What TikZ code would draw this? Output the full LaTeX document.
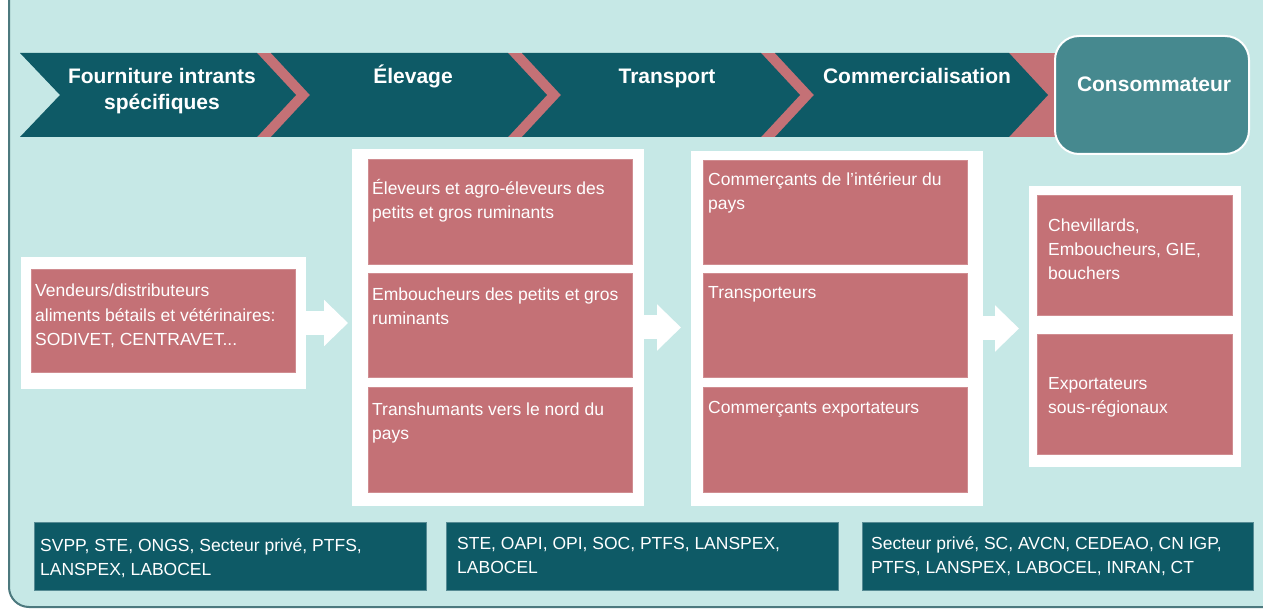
\documentclass[tikz,border=0pt]{standalone}
\usepackage{fontspec}
\setmainfont{Liberation Sans}
\usetikzlibrary{arrows.meta}
\definecolor{bgteal}{HTML}{C6E8E6}
\definecolor{darkteal}{HTML}{0E5A66}
\definecolor{rose}{HTML}{C47176}
\definecolor{consum}{HTML}{46898F}
\definecolor{frameline}{HTML}{4C797E}
\begin{document}
\begin{tikzpicture}[x=1pt,y=-1pt,
  panel/.style={fill=white, draw=none, inner sep=0pt, outer sep=0pt, anchor=north west},
  rosebox/.style={fill=rose, draw=rose!80!white, line width=0.6pt, inner sep=0pt, outer sep=0pt, anchor=north west},
  actorbox/.style={fill=darkteal, draw=darkteal!70!white, line width=0.6pt, inner sep=0pt, outer sep=0pt, anchor=north west},
  btxt/.style={font=\fontsize{17.5}{24}\selectfont, text=white, align=left, inner sep=0pt, anchor=base west},
  atxt/.style={font=\fontsize{17.5}{24}\selectfont, text=white, align=left, inner sep=0pt, anchor=base west},
  stagetxt/.style={font=\bfseries\fontsize{21}{26}\selectfont, text=white, align=center, inner sep=0pt, anchor=base},
  stageseg/.style={fill=darkteal},
  fatarrow/.style={white, line width=24pt, -{Triangle[length=24pt, width=45pt]}}
]
\useasboundingbox (0,0) rectangle (1263,609);
\fill[white] (0,0) rectangle (1263,609);
\draw[frameline, line width=2pt, fill=bgteal, rounded corners=20pt] (9,-40) rectangle (1300,607);

% stage band
\fill[rose] (250,53) rectangle (1062,137);
\fill[stageseg] (20,53) -- (257,53) -- (296,95) -- (257,137) -- (20,137) -- (60,95) -- cycle;
\fill[stageseg] (271,53) -- (508,53) -- (547,95) -- (508,137) -- (271,137) -- (310,95) -- cycle;
\fill[stageseg] (522,53) -- (761,53) -- (800,95) -- (761,137) -- (522,137) -- (561,95) -- cycle;
\fill[stageseg] (775,53) -- (1009,53) -- (1048,95) -- (1009,137) -- (775,137) -- (814,95) -- cycle;
% base anchor of a multi-line node = baseline of its last line
\node[stagetxt] (s1) at (162,110) {Fourniture intrants\\spécifiques};
\node[stagetxt] (s2) at (413,84) {Élevage};
\node[stagetxt] (s3) at (667,84) {Transport};
\node[stagetxt] (s4) at (917,84) {Commercialisation};
\node[fill=consum, draw=white, line width=2pt, rounded corners=24pt, minimum width=194pt, minimum height=118pt, inner sep=0pt] (cons) at (1152,95) {};
\node[stagetxt] (constxt) at (1154,92) {Consommateur};

% panels
\node[panel, minimum width=285pt, minimum height=132pt] (p1) at (21,257) {};
\node[panel, minimum width=292pt, minimum height=357pt] (p2) at (352,149) {};
\node[panel, minimum width=292pt, minimum height=355pt] (p3) at (691,151) {};
\node[panel, minimum width=212pt, minimum height=281pt] (p4) at (1029,186) {};

\node[rosebox, minimum width=264pt, minimum height=103pt] (a1) at (31,269) {};
\node[btxt] (a1t) at (35,345) {Vendeurs/distributeurs\\aliments bétails et vétérinaires:\\SODIVET, CENTRAVET...};

\node[rosebox, minimum width=264pt, minimum height=105pt] (b1) at (368,159) {};
\node[rosebox, minimum width=264pt, minimum height=104pt] (b2) at (368,273) {};
\node[rosebox, minimum width=264pt, minimum height=105pt] (b3) at (368,387) {};
\node[btxt] (b1t) at (372,219) {Éleveurs et agro-éleveurs des\\petits et gros ruminants};
\node[btxt] (b2t) at (372,325) {Emboucheurs des petits et gros\\ruminants};
\node[btxt] (b3t) at (372,439) {Transhumants vers le nord du\\pays};

\node[rosebox, minimum width=264pt, minimum height=104pt] (c1) at (703,160) {};
\node[rosebox, minimum width=264pt, minimum height=104pt] (c2) at (703,273) {};
\node[rosebox, minimum width=264pt, minimum height=105pt] (c3) at (703,387) {};
\node[btxt] (c1t) at (708,210) {Commerçants de l'intérieur du\\pays};
\node[btxt] (c2t) at (708,299) {Transporteurs};
\node[btxt] (c3t) at (708,413) {Commerçants exportateurs};

\node[rosebox, minimum width=195pt, minimum height=120pt] (d1) at (1037,195) {};
\node[rosebox, minimum width=195pt, minimum height=120pt] (d2) at (1037,334) {};
\node[btxt] (d1t) at (1048,280) {Chevillards,\\Emboucheurs, GIE,\\bouchers};
\node[btxt] (d2t) at (1048,413) {Exportateurs\\sous-régionaux};

% arrows between panels
\draw[fatarrow, shorten >=4pt] (p1.east) -- (p1.east -| p2.west);
\draw[fatarrow, shorten >=10pt] (p2.east) -- (p2.east -| p3.west);
\draw[fatarrow, shorten >=10pt] (p3.east) -- (p3.east -| p4.west);

% actor boxes
\node[actorbox, minimum width=392pt, minimum height=68pt] (e1) at (34,522) {};
\node[actorbox, minimum width=392pt, minimum height=68pt] (e2) at (446,522) {};
\node[actorbox, minimum width=391pt, minimum height=68pt] (e3) at (862,522) {};
\node[atxt] (e1t) at (40,575) {SVPP, STE, ONGS, Secteur privé, PTFS,\\LANSPEX, LABOCEL};
\node[atxt] (e2t) at (457,573) {STE, OAPI, OPI, SOC, PTFS, LANSPEX,\\LABOCEL};
\node[atxt] (e3t) at (871,573) {Secteur privé, SC, AVCN, CEDEAO, CN IGP,\\PTFS, LANSPEX, LABOCEL, INRAN, CT};
\end{tikzpicture}
\end{document}
